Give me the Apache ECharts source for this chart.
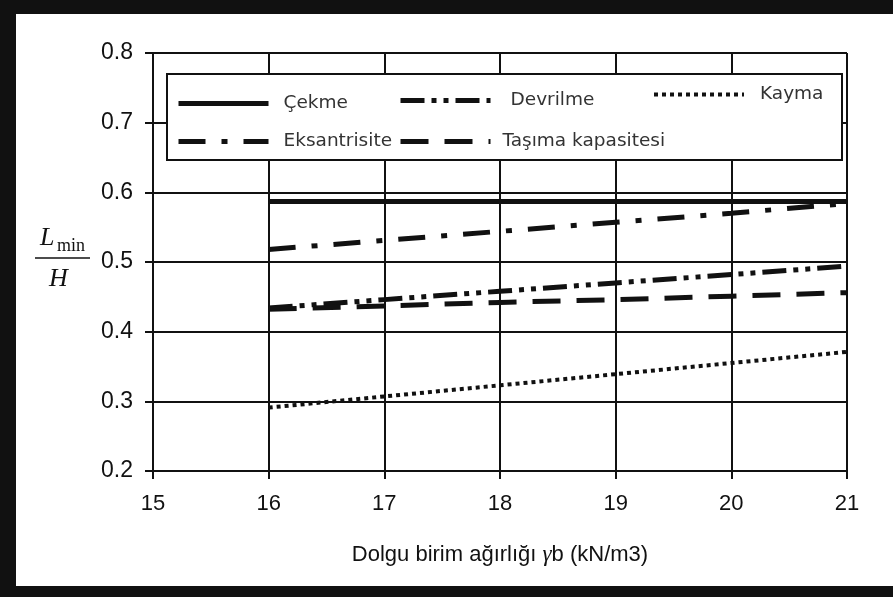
<!DOCTYPE html>
<html>
<head>
<meta charset="utf-8">
<script src="https://cdn.jsdelivr.net/npm/echarts@6/dist/echarts.min.js"></script>
<style>
  body { margin: 0; }
  #wrap { position: relative; width: 893px; height: 597px; background: #111; overflow: hidden; }
  #paper { position: absolute; left: 16px; top: 14px; width: 877px; height: 572px; background: #fff; }
  #chart { position: absolute; left: 0; top: 0; width: 893px; height: 597px; }
</style>
</head>
<body>
<div id="wrap">
  <div id="paper"></div>
  <div id="chart"></div>
</div>
<script>
// gamma b (kN/m3)
var xValues = [16, 17, 18, 19, 20, 21];
// Lmin / H
var cekme        = [0.587, 0.587, 0.587, 0.587, 0.587, 0.587];
var eksantrisite = [0.518, 0.531, 0.544, 0.557, 0.570, 0.584];
var devrilme     = [0.434, 0.446, 0.458, 0.470, 0.482, 0.494];
var tasima       = [0.432, 0.437, 0.442, 0.446, 0.451, 0.456];
var kayma        = [0.291, 0.307, 0.323, 0.339, 0.355, 0.371];

var xTicks = [15, 16, 17, 18, 19, 20, 21];
var yTicks = [0.2, 0.3, 0.4, 0.5, 0.6, 0.7, 0.8];

function pairs(ys) {
    return xValues.map(function (x, i) { return [x, ys[i]]; });
}

var ink = '#111';
var dashes = {
    'Çekme': 'solid',
    'Devrilme': [24, 7, 5, 7, 5, 7],
    'Kayma': [4, 4],
    'Eksantrisite': [27, 16, 6, 16],
    'Taşıma kapasitesi': [28, 16]
};

function oneLegend(name, left, top, gap) {
    return {
        data: [name],
        left: left,
        top: top,
        itemWidth: 90,
        itemHeight: 14,
        padding: 0,
        selectedMode: false,
        itemStyle: { opacity: 0 },
        lineStyle: { color: ink, width: name === 'Kayma' ? 4 : 5, type: dashes[name], cap: 'butt' },
        textStyle: {
            fontFamily: 'DejaVu Sans', fontSize: 18.5, color: '#333',
            padding: [0, 0, 0, gap]
        }
    };
}

function makeLine(name, ys, width) {
    return {
        name: name,
        type: 'line',
        data: pairs(ys),
        symbol: 'none',
        color: ink,
        lineStyle: { color: ink, width: width, type: dashes[name], cap: 'butt' },
        z: 5
    };
}

var chart = echarts.init(document.getElementById('chart'));
chart.setOption({
    animation: false,
    backgroundColor: 'transparent',
    grid: { left: 153, right: 46, top: 53, bottom: 126 },
    legend: [
        oneLegend('Çekme', 176, 94, 10),
        oneLegend('Devrilme', 398, 91, 15),
        oneLegend('Kayma', 652, 85, 11),
        oneLegend('Eksantrisite', 176, 132, 10),
        oneLegend('Taşıma kapasitesi', 398, 132, 7)
    ],
    graphic: [
        { type: 'rect', left: 166, top: 73, shape: { width: 675, height: 86 },
          style: { fill: '#fff', stroke: ink, lineWidth: 2 }, z: 3 },
        // y axis title  Lmin / H
        { type: 'text', left: 40, top: 225,
          style: { text: 'L', font: 'italic 26px "Liberation Serif"', fill: ink } },
        { type: 'text', left: 57, top: 237,
          style: { text: 'min', font: '18px "Liberation Serif"', fill: ink } },
        { type: 'line', shape: { x1: 35, y1: 258, x2: 90, y2: 258 },
          style: { stroke: ink, lineWidth: 1.5 } },
        { type: 'text', left: 49, top: 266,
          style: { text: 'H', font: 'italic 26px "Liberation Serif"', fill: ink } }
    ],
    xAxis: {
        type: 'value',
        min: xTicks[0],
        max: xTicks[xTicks.length - 1],
        interval: 1,
        name: 'Dolgu birim ağırlığı {g|γ}b (kN/m3)',
        nameLocation: 'middle',
        nameGap: 72,
        nameTextStyle: {
            fontFamily: 'Liberation Sans', fontSize: 22, color: ink,
            rich: { g: { fontFamily: 'Liberation Serif', fontStyle: 'italic', fontSize: 23, color: ink } }
        },
        axisLine: { show: true, lineStyle: { color: ink, width: 2 } },
        axisTick: { show: true, length: 8, lineStyle: { color: ink, width: 2 } },
        axisLabel: { margin: 22, fontFamily: 'Liberation Sans', fontSize: 22, color: ink },
        splitLine: { show: true, lineStyle: { color: ink, width: 2 } }
    },
    yAxis: {
        type: 'value',
        min: yTicks[0],
        max: yTicks[yTicks.length - 1],
        interval: 0.1,
        axisLine: { show: true, lineStyle: { color: ink, width: 2 } },
        axisTick: { show: true, length: 8, lineStyle: { color: ink, width: 2 } },
        axisLabel: {
            margin: 20, fontFamily: 'Liberation Sans', fontSize: 23, color: ink,
            formatter: function (v) { return v.toFixed(1); }
        },
        splitLine: { show: true, lineStyle: { color: ink, width: 2 } }
    },
    series: [
        makeLine('Çekme', cekme, 5),
        makeLine('Devrilme', devrilme, 5),
        makeLine('Kayma', kayma, 4),
        makeLine('Eksantrisite', eksantrisite, 5),
        makeLine('Taşıma kapasitesi', tasima, 5)
    ]
});
</script>
</body>
</html>
